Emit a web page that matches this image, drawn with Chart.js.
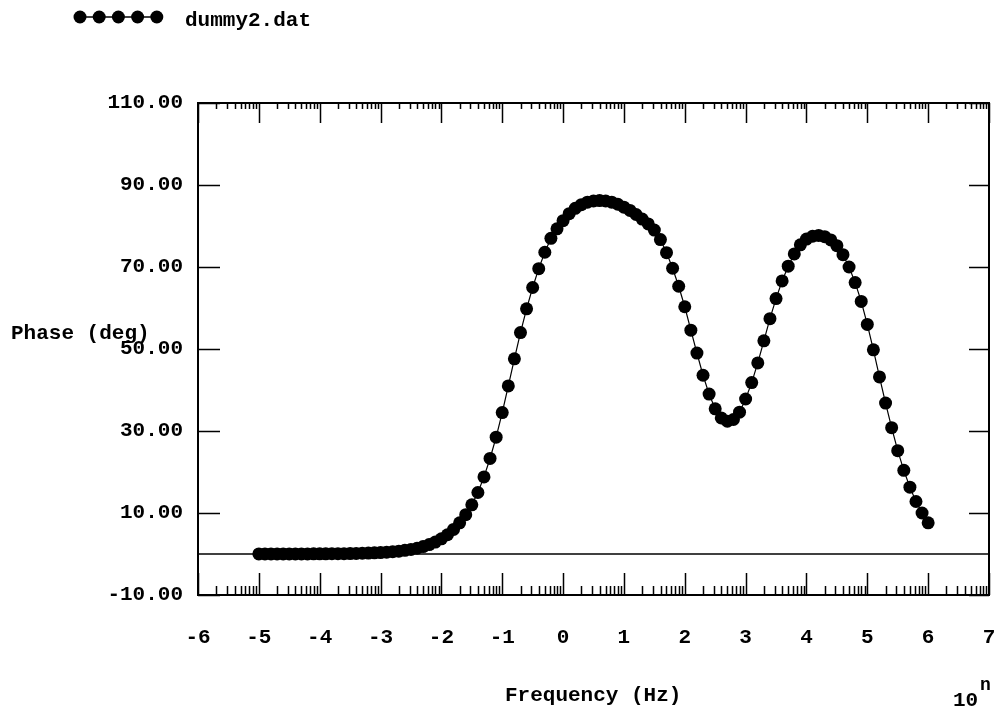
<!DOCTYPE html>
<html>
<head>
<meta charset="utf-8">
<title>dummy2.dat phase</title>
<script src="https://cdn.jsdelivr.net/npm/chart.js@4/dist/chart.umd.min.js"></script>
<style>
  html, body { margin: 0; padding: 0; background: #ffffff; }
  #wrap { width: 997px; height: 719px; }
</style>
</head>
<body>
<div id="wrap"><canvas id="c" width="997" height="719"></canvas></div>
<script>
// log10 of frequency (Hz)
const logFreq = [
  -5.0, -4.9, -4.8, -4.7, -4.6, -4.5, -4.4, -4.3, -4.2, -4.1,
  -4.0, -3.9, -3.8, -3.7, -3.6, -3.5, -3.4, -3.3, -3.2, -3.1,
  -3.0, -2.9, -2.8, -2.7, -2.6, -2.5, -2.4, -2.3, -2.2, -2.1,
  -2.0, -1.9, -1.8, -1.7, -1.6, -1.5, -1.4, -1.3, -1.2, -1.1,
  -1.0, -0.9, -0.8, -0.7, -0.6, -0.5, -0.4, -0.3, -0.2, -0.1,
   0.0,  0.1,  0.2,  0.3,  0.4,  0.5,  0.6,  0.7,  0.8,  0.9,
   1.0,  1.1,  1.2,  1.3,  1.4,  1.5,  1.6,  1.7,  1.8,  1.9,
   2.0,  2.1,  2.2,  2.3,  2.4,  2.5,  2.6,  2.7,  2.8,  2.9,
   3.0,  3.1,  3.2,  3.3,  3.4,  3.5,  3.6,  3.7,  3.8,  3.9,
   4.0,  4.1,  4.2,  4.3,  4.4,  4.5,  4.6,  4.7,  4.8,  4.9,
   5.0,  5.1,  5.2,  5.3,  5.4,  5.5,  5.6,  5.7,  5.8,  5.9,
   6.0
];

// phase angle (deg) at each frequency
const phaseDeg = [
  0.02, 0.02, 0.02, 0.02, 0.02, 0.03, 0.03, 0.03, 0.03, 0.04,
  0.04, 0.05, 0.06, 0.07, 0.09, 0.11, 0.14, 0.18, 0.22, 0.28,
  0.35, 0.45, 0.55, 0.70, 0.90, 1.10, 1.40, 1.80, 2.30, 2.90,
  3.70, 4.70, 6.00, 7.60, 9.60, 12.0, 15.0, 18.8, 23.3, 28.5,
  34.5, 41.0, 47.6, 54.0, 59.8, 65.0, 69.6, 73.6, 77.0, 79.3,
  81.3, 83.0, 84.3, 85.2, 85.8, 86.1, 86.2, 86.1, 85.8, 85.3,
  84.6, 83.8, 82.8, 81.7, 80.5, 79.0, 76.7, 73.5, 69.7, 65.3,
  60.3, 54.6, 49.0, 43.6, 39.0, 35.4, 33.2, 32.4, 32.8, 34.6,
  37.8, 41.8, 46.6, 52.0, 57.4, 62.3, 66.6, 70.2, 73.2, 75.4,
  76.8, 77.5, 77.7, 77.4, 76.6, 75.2, 73.0, 70.0, 66.2, 61.6,
  56.0, 49.8, 43.2, 36.8, 30.8, 25.2, 20.4, 16.3, 12.8, 10.0,
  7.6
];

const xTickValues = [-6, -5, -4, -3, -2, -1, 0, 1, 2, 3, 4, 5, 6, 7];
const yTickValues = [-10, 10, 30, 50, 70, 90, 110];

const seriesName = 'dummy2.dat';
const xTitle = 'Frequency (Hz)';
const yTitle = 'Phase (deg)';

const FONT_FAMILY = '"Liberation Mono", "DejaVu Sans Mono", monospace';
const FONT_SIZE = 21;
const INK = '#000000';

// Frame, log-decade tick marks, zero line, titles and the legend strip
const decorPlugin = {
  id: 'decor',
  beforeDatasetsDraw(chart) {
    const { ctx, chartArea: a, scales } = chart;
    const ys = scales.y;
    ctx.save();
    ctx.strokeStyle = INK;
    // zero reference line
    ctx.lineWidth = 1.5;
    const y0 = ys.getPixelForValue(0);
    ctx.beginPath();
    ctx.moveTo(a.left, y0);
    ctx.lineTo(a.right, y0);
    ctx.stroke();
    ctx.restore();
  },
  afterDraw(chart) {
    const { ctx, chartArea: a, scales } = chart;
    const xs = scales.x, ys = scales.y;
    ctx.save();
    ctx.strokeStyle = INK;
    ctx.fillStyle = INK;

    // plot frame
    ctx.lineWidth = 2;
    ctx.strokeRect(a.left, a.top, a.right - a.left, a.bottom - a.top);

    // decade ticks with logarithmic minor ticks, top and bottom
    ctx.lineWidth = 1.5;
    const first = xTickValues[0], last = xTickValues[xTickValues.length - 1];
    ctx.beginPath();
    for (let d = first; d <= last; d++) {
      const px = Math.round(xs.getPixelForValue(d)) + 0.5;
      ctx.moveTo(px, a.top); ctx.lineTo(px, a.top + 20);
      ctx.moveTo(px, a.bottom); ctx.lineTo(px, a.bottom - 22);
      if (d === last) break;
      for (let k = 2; k <= 9; k++) {
        const mx = Math.round(xs.getPixelForValue(d + Math.log10(k))) + 0.5;
        ctx.moveTo(mx, a.top); ctx.lineTo(mx, a.top + 6);
        ctx.moveTo(mx, a.bottom); ctx.lineTo(mx, a.bottom - 9);
      }
    }
    // value ticks on left and right
    yTickValues.forEach(v => {
      const py = Math.round(ys.getPixelForValue(v)) + 0.5;
      ctx.moveTo(a.left, py); ctx.lineTo(a.left + 22, py);
      ctx.moveTo(a.right, py); ctx.lineTo(a.right - 20, py);
    });
    ctx.stroke();

    // axis titles
    ctx.font = 'bold ' + FONT_SIZE + 'px ' + FONT_FAMILY;
    ctx.textBaseline = 'alphabetic';
    ctx.textAlign = 'left';
    ctx.fillText(yTitle, 11, 339);
    ctx.fillText(xTitle, 505, 701);
    ctx.fillText('10', 953, 706);
    ctx.font = 'bold 18px ' + FONT_FAMILY;
    ctx.fillText('n', 980, 690);

    // legend: marker chain followed by the series name
    const ds = chart.data.datasets[0];
    const ly = 17;
    ctx.lineWidth = 1.5;
    ctx.beginPath();
    ctx.moveTo(80, ly); ctx.lineTo(157, ly);
    ctx.stroke();
    for (let i = 0; i < 5; i++) {
      ctx.beginPath();
      ctx.arc(80 + i * 19.2, ly, ds.pointRadius, 0, Math.PI * 2);
      ctx.fill();
    }
    ctx.font = 'bold ' + FONT_SIZE + 'px ' + FONT_FAMILY;
    ctx.fillText(seriesName, 185, 26);
    ctx.restore();
  }
};

new Chart(document.getElementById('c'), {
  type: 'line',
  data: {
    datasets: [{
      label: seriesName,
      data: logFreq.map((f, i) => ({ x: f, y: phaseDeg[i] })),
      borderColor: INK,
      borderWidth: 1.2,
      backgroundColor: INK,
      pointBackgroundColor: INK,
      pointBorderColor: INK,
      pointBorderWidth: 0,
      pointRadius: 6.5,
      pointHoverRadius: 6.5,
      tension: 0,
      fill: false
    }]
  },
  options: {
    responsive: false,
    animation: false,
    events: [],
    layout: { padding: { top: 103, right: 8, bottom: 64, left: 0 } },
    plugins: {
      legend: { display: false },
      tooltip: { enabled: false },
      title: { display: false }
    },
    scales: {
      x: {
        type: 'linear',
        position: 'bottom',
        min: -6,
        max: 7,
        afterBuildTicks: s => { s.ticks = xTickValues.map(v => ({ value: v })); },
        afterFit: s => { s.height = 60; s.paddingLeft = 0; s.paddingRight = 0; },
        grid: { display: false, drawTicks: false },
        border: { display: false },
        ticks: {
          autoSkip: false,
          maxRotation: 0,
          padding: 30,
          color: INK,
          font: { family: FONT_FAMILY, size: FONT_SIZE, weight: 'bold' },
          callback: v => String(v)
        }
      },
      y: {
        type: 'linear',
        min: -10,
        max: 110,
        afterBuildTicks: s => { s.ticks = yTickValues.map(v => ({ value: v })); },
        afterFit: s => { s.width = 198; s.paddingTop = 0; s.paddingBottom = 0; },
        grid: { display: false, drawTicks: false },
        border: { display: false },
        ticks: {
          padding: 15,
          color: INK,
          font: { family: FONT_FAMILY, size: FONT_SIZE, weight: 'bold' },
          callback: v => Number(v).toFixed(2)
        }
      }
    }
  },
  plugins: [decorPlugin]
});
</script>
</body>
</html>
